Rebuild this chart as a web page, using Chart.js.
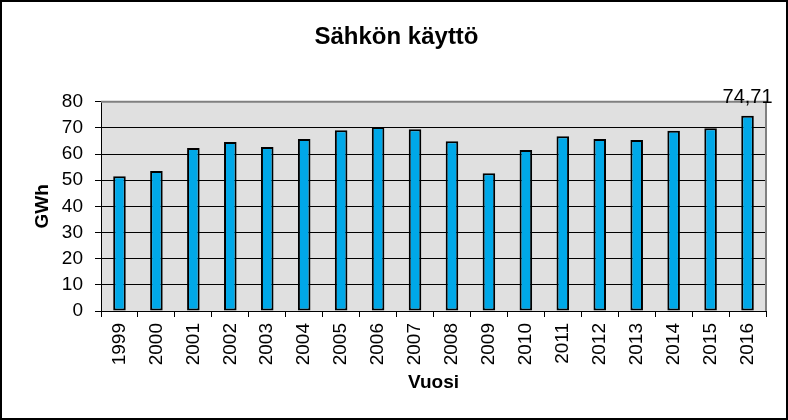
<!DOCTYPE html>
<html>
<head>
<meta charset="utf-8">
<script src="https://cdn.jsdelivr.net/npm/chart.js@4"></script>
<style>
  html,body{margin:0;padding:0;background:#fff;}
  #wrap{width:788px;height:420px;position:relative;}
</style>
</head>
<body>
<div id="wrap"><canvas id="c"></canvas></div>
<script>
/* Sähkön käyttö, GWh per vuosi */
const years = ['1999','2000','2001','2002','2003','2004','2005','2006','2007','2008','2009','2010','2011','2012','2013','2014','2015','2016'];
const gwh = [51.5, 53.5, 62.3, 64.6, 62.7, 65.8, 69.1, 70.4, 69.5, 64.9, 52.7, 61.6, 66.8, 65.8, 65.4, 68.9, 69.9, 74.71];
const yTicks = [0,10,20,30,40,50,60,70,80];
const labelledIndex = [17];   // only the last bar shows its value

const FONT = 'Arial, "Liberation Sans", sans-serif';

// white page with black frame, grey plot area
const frame = {
  id:'frame',
  beforeDraw(chart){
    const {ctx, chartArea:a, width, height} = chart;
    ctx.save();
    ctx.fillStyle = '#fff';
    ctx.fillRect(0,0,width,height);
    ctx.fillStyle = '#e0e0e0';
    ctx.fillRect(a.left, a.top, a.right-a.left, a.bottom-a.top);
    ctx.restore();
  },
  afterDraw(chart){
    const {ctx, chartArea:a, width, height} = chart;
    ctx.save();
    ctx.strokeStyle = '#808080';
    ctx.lineWidth = 2;
    ctx.beginPath();
    ctx.moveTo(a.left, a.top); ctx.lineTo(a.right, a.top); ctx.lineTo(a.right, a.bottom);
    ctx.stroke();
    ctx.strokeStyle = '#000';
    ctx.lineWidth = 2;
    ctx.strokeRect(1,1,width-2,height-2);
    // value label
    const meta = chart.getDatasetMeta(0);
    ctx.fillStyle = '#000';
    ctx.font = '20px ' + FONT;
    ctx.textAlign = 'center';
    ctx.textBaseline = 'alphabetic';
    labelledIndex.forEach(i=>{
      const el = meta.data[i];
      ctx.fillText(gwh[i].toFixed(2).replace('.', ','), el.x, el.y - 13);
    });
    ctx.restore();
  }
};

new Chart(document.getElementById('c'), {
  type:'bar',
  data:{ labels:years, datasets:[{
    data:gwh, backgroundColor:'#00a8e8', borderColor:'#000', borderWidth:2,
    borderSkipped:false, barPercentage:0.34, categoryPercentage:1
  }]},
  options:{
    responsive:true, maintainAspectRatio:false, animation:false,
    layout:{ padding:{ left:27, right:22, top:0, bottom:22 } },
    plugins:{
      legend:{display:false}, tooltip:{enabled:false},
      title:{ display:true, text:'Sähkön käyttö', color:'#000',
        font:{family:FONT, size:24, weight:'bold'}, padding:{top:23, bottom:50} }
    },
    scales:{
      x:{
        grid:{ display:true, drawOnChartArea:false, offset:true, color:'#000', lineWidth:1, tickLength:6 },
        border:{ color:'#000', width:1 },
        ticks:{ color:'#000', font:{family:FONT, size:19}, maxRotation:90, minRotation:90, padding:6 },
        title:{ display:true, text:'Vuosi', color:'#000', font:{family:FONT, size:19, weight:'bold'}, padding:{top:2} },
        afterFit(s){ s.height = 87; }
      },
      y:{
        min:0, max:80,
        afterBuildTicks(s){ s.ticks = yTicks.map(v=>({value:v})); },
        grid:{ color:'#000', lineWidth:1, tickLength:6 },
        border:{ color:'#000', width:1 },
        ticks:{ color:'#000', font:{family:FONT, size:19}, padding:12 },
        title:{ display:true, text:'GWh', color:'#000', font:{family:FONT, size:19, weight:'bold'}, padding:{top:4, bottom:4} },
        afterFit(s){ s.width = 74; }
      }
    }
  },
  plugins:[frame]
});
</script>
</body>
</html>
